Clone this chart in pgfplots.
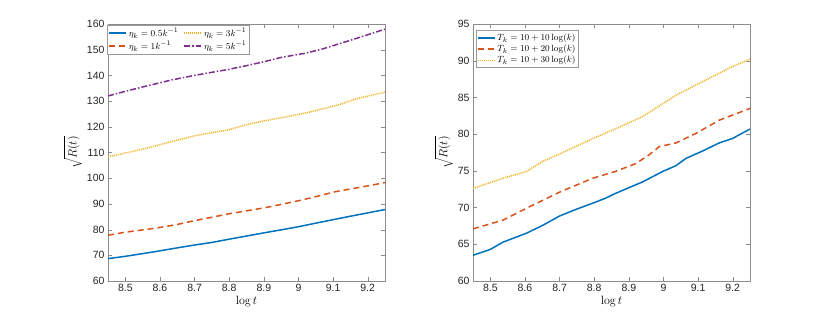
\documentclass[border=0pt]{standalone}
\usepackage[no-math]{fontspec}
\setmainfont{Liberation Sans}
\usepackage{pgfplots}
\pgfplotsset{compat=1.18}
\definecolor{mblue}{rgb}{0,0.447,0.741}
\definecolor{morange}{rgb}{0.85,0.325,0.098}
\definecolor{myellow}{rgb}{0.929,0.694,0.125}
\definecolor{mpurple}{rgb}{0.494,0.184,0.556}
\pgfplotsset{
  mstyle/.style={
    scale only axis, width=277pt, height=257pt,
    xmin=8.45, xmax=9.25,
    xtick={8.5,8.6,8.7,8.8,8.9,9,9.1,9.2},
    xticklabels={8.5,8.6,8.7,8.8,8.9,9,9.1,9.2},
    /pgf/number format/assume math mode=true,
    tick label style={font=\fontsize{10.5}{12}\selectfont, text=black!85},
    axis line style={black!45},
    tick style={black!45},
    tick align=inside,
    major tick length=4pt,
    xlabel={$\log t$},
    ylabel={$\sqrt{R(t)}$},
    label style={font=\fontsize{12}{14}\selectfont},
    xlabel style={yshift=3pt},
    ylabel style={yshift=-2pt},
    legend style={draw=black!40, font=\fontsize{9.5}{10}\selectfont, inner sep=1pt, row sep=-1pt},
    legend cell align=left,
    legend image code/.code={\draw[line width=1.6pt,##1] (0cm,0cm) -- (0.6cm,0cm);},
  },
  lw/.style={line width=1.5pt},
}
\begin{document}
\begin{tikzpicture}
\path[use as bounding box] (0,0) rectangle (830pt,316pt);
\begin{axis}[mstyle, at={(108pt,35pt)}, anchor=south west,
  ymin=60, ymax=160, ytick={60,70,...,160},
  legend columns=2,
  legend style={at={(0.0,1.0)}, anchor=north west, xshift=-1pt, yshift=-1pt, /tikz/every even column/.append style={column sep=3pt}}]
\addplot[mblue, lw, solid] coordinates {(8.45,68.7)(8.5,69.6)(8.585,71.4)(8.65,72.9)(8.70,74.0)(8.75,75.0)(8.797,76.2)(8.85,77.5)(8.903,78.8)(8.95,79.9)(8.999,81.1)(9.05,82.5)(9.105,84.0)(9.15,85.2)(9.2,86.5)(9.25,87.8)};
\addlegendentry{$\eta_k = 0.5k^{-1}$}
\addplot[myellow, lw, dash pattern=on 1pt off 1pt] coordinates {(8.45,108.3)(8.5,109.8)(8.55,111.3)(8.633,114.2)(8.70,116.5)(8.797,118.8)(8.85,120.8)(8.9,122.3)(8.95,123.5)(9.019,125.3)(9.07,127.0)(9.115,128.5)(9.17,131.0)(9.25,133.5)};
\addlegendentry{$\eta_k = 3k^{-1}$}
\addplot[morange, lw, dash pattern=on 6pt off 4pt] coordinates {(8.45,77.8)(8.5,79.0)(8.585,80.5)(8.65,82.0)(8.70,83.5)(8.75,84.8)(8.797,86.1)(8.85,87.3)(8.903,88.5)(8.95,89.8)(8.999,91.2)(9.05,92.8)(9.105,94.7)(9.15,95.8)(9.2,97.0)(9.25,98.3)};
\addlegendentry{$\eta_k = 1k^{-1}$}
\addplot[mpurple, lw, dash pattern=on 6pt off 2pt on 1.5pt off 2pt] coordinates {(8.45,132.0)(8.5,133.8)(8.55,135.5)(8.633,138.2)(8.70,140.0)(8.75,141.2)(8.797,142.3)(8.85,143.8)(8.9,145.3)(8.95,147.0)(9.019,148.6)(9.07,150.3)(9.115,152.2)(9.17,154.5)(9.25,158.0)};
\addlegendentry{$\eta_k = 5k^{-1}$}
\end{axis}
\begin{axis}[mstyle, at={(473pt,35pt)}, anchor=south west,
  ymin=60, ymax=95, ytick={60,65,...,95},
  legend columns=1,
  legend style={at={(0.0,1.0)}, anchor=north west, xshift=2.5pt, yshift=-6.5pt}]
\addplot[mblue, lw, solid] coordinates {(8.45,63.5)(8.5,64.3)(8.537,65.3)(8.604,66.5)(8.652,67.6)(8.70,68.85)(8.75,69.8)(8.796,70.6)(8.834,71.3)(8.86,71.9)(8.94,73.5)(8.997,74.9)(9.036,75.7)(9.065,76.7)(9.113,77.7)(9.161,78.8)(9.199,79.4)(9.25,80.7)};
\addlegendentry{$T_k = 10 + 10\log(k)$}
\addplot[morange, lw, dash pattern=on 6pt off 4pt] coordinates {(8.45,67.1)(8.537,68.3)(8.604,69.9)(8.652,71.0)(8.70,72.1)(8.796,74.0)(8.86,74.9)(8.921,76.0)(8.959,77.2)(8.988,78.3)(9.036,78.8)(9.094,80.1)(9.161,81.9)(9.25,83.5)};
\addlegendentry{$T_k = 10 + 20\log(k)$}
\addplot[myellow, lw, dash pattern=on 1pt off 1pt] coordinates {(8.45,72.6)(8.537,74.0)(8.604,74.9)(8.652,76.3)(8.70,77.3)(8.796,79.4)(8.87,80.9)(8.94,82.4)(8.99,83.9)(9.036,85.3)(9.132,87.6)(9.199,89.2)(9.25,90.2)};
\addlegendentry{$T_k = 10 + 30\log(k)$}
\end{axis}
\end{tikzpicture}
\end{document}
